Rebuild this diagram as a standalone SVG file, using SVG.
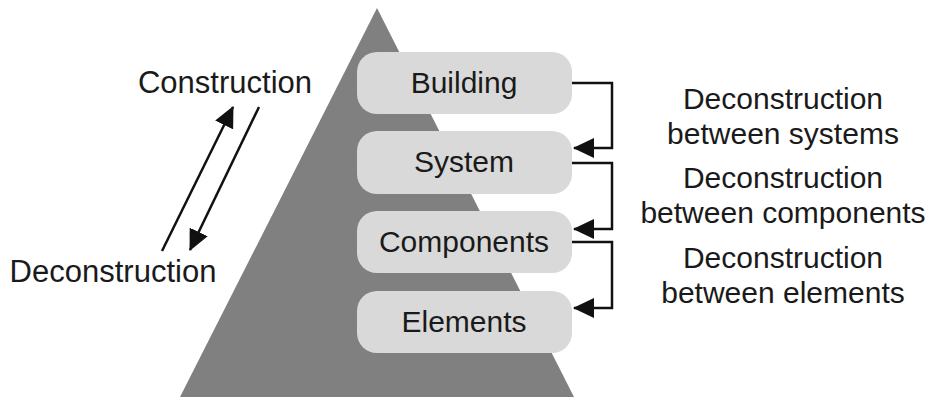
<svg xmlns="http://www.w3.org/2000/svg" width="931" height="397" viewBox="0 0 931 397">
  <style>
    .lbl { font-family: "Liberation Sans", Arial, sans-serif; fill: #1a1a1a; text-anchor: middle; }
    .box { fill: #d9d9d9; }
    .conn { fill: none; stroke: #111; stroke-width: 2.5; }
  </style>
  <defs>
    <marker id="head" markerWidth="21" markerHeight="20" refX="20" refY="10" orient="auto" markerUnits="userSpaceOnUse">
      <path d="M0,0 L21,10 L0,20 Z" fill="#111"/>
    </marker>
  </defs>
  <rect width="931" height="397" fill="#fff"/>

  <!-- pyramid -->
  <polygon id="pyramid" points="377,8 180,397 574,397" fill="#808080"/>

  <!-- levels -->
  <g id="building">
    <rect class="box" x="357" y="52" width="215" height="62" rx="20"/>
    <text class="lbl" x="464" y="93" font-size="30">Building</text>
  </g>
  <g id="system">
    <rect class="box" x="357" y="131" width="215" height="63" rx="20"/>
    <text class="lbl" x="464" y="172" font-size="30">System</text>
  </g>
  <g id="components">
    <rect class="box" x="357" y="211" width="215" height="62" rx="20"/>
    <text class="lbl" x="464" y="252" font-size="30">Components</text>
  </g>
  <g id="elements">
    <rect class="box" x="357" y="291" width="215" height="62" rx="20"/>
    <text class="lbl" x="464" y="332" font-size="30">Elements</text>
  </g>

  <!-- side labels -->
  <g id="construction">
    <text class="lbl" x="225" y="93" font-size="31">Construction</text>
  </g>
  <g id="deconstruction">
    <text class="lbl" x="113" y="282" font-size="31">Deconstruction</text>
  </g>
  <g id="notes">
    <text class="lbl" x="783" y="109" font-size="30">Deconstruction</text>
    <text class="lbl" x="783" y="144" font-size="30">between systems</text>
    <text class="lbl" x="783" y="188" font-size="30">Deconstruction</text>
    <text class="lbl" x="783" y="223" font-size="30">between components</text>
    <text class="lbl" x="783" y="268" font-size="30">Deconstruction</text>
    <text class="lbl" x="783" y="303" font-size="30">between elements</text>
  </g>

  <!-- connectors -->
  <g id="connectors">
    <path class="conn" d="M572,83 H612 V148 H574" marker-end="url(#head)"/>
    <path class="conn" d="M572,163 H612 V229 H574" marker-end="url(#head)"/>
    <path class="conn" d="M572,242 H612 V308 H574" marker-end="url(#head)"/>
    <path class="conn" d="M162,251 L233,107" marker-end="url(#head)"/>
    <path class="conn" d="M259,107 L190,250" marker-end="url(#head)"/>
  </g>
</svg>
